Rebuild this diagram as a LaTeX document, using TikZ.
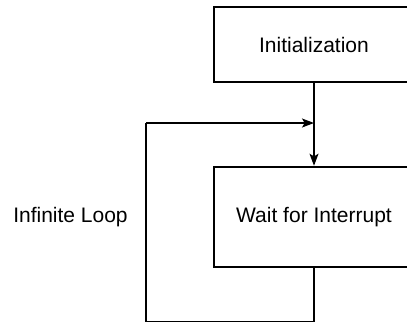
\documentclass[tikz,border=0pt]{standalone}
\usepackage{fontspec}
\setmainfont{Liberation Sans}
\usetikzlibrary{arrows.meta,positioning}

\begin{document}
\begin{tikzpicture}[
    x=0.75pt, y=-0.75pt,
    block/.style={rectangle, draw=black, line width=1.9pt, fill=white, minimum height=56.25pt, minimum width=150pt, align=center, font=\fontsize{15.75}{19}\selectfont},
    label/.style={font=\fontsize{15.75}{19}\selectfont},
    arrow/.style={-{Stealth[length=9pt, width=6.75pt, inset=2pt]}, line width=0.8pt},
    link/.style={line width=0.8pt},
]
    \clip (0,0) rectangle (407,322);
    \node[block] (init) at (314,44.5) {Initialization};
    \node[block, minimum height=75pt] (wait) at (314,217) {Wait for Interrupt};
    \node[label] (loop) at (70.5,217) {Infinite Loop};
    \coordinate (corner) at (146,123);
    \coordinate (join) at (314,123);

    \draw[arrow] (init) -- (wait);
    \draw[link] (wait.south) -- ++(0,53.5) -| (corner);
    \draw[arrow] (corner) -- (join);
\end{tikzpicture}
\end{document}
